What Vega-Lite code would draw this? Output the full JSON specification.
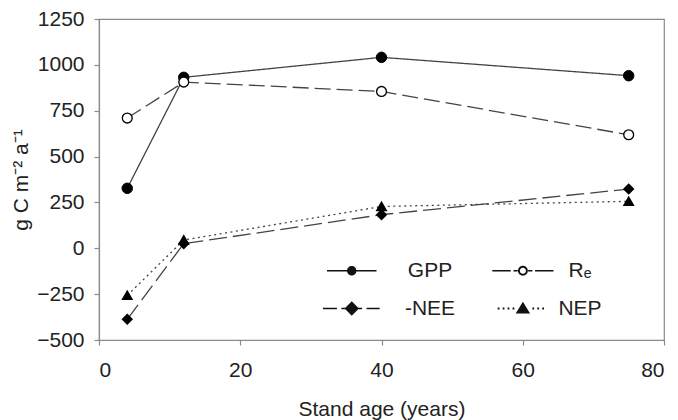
{
  "$schema": "https://vega.github.io/schema/vega-lite/v6.json",
  "width": 565,
  "height": 321,
  "autosize": "none",
  "padding": {"left": 99, "top": 19, "right": 14, "bottom": 80},
  "background": "white",
  "data": {
    "values": [
      {"series": "GPP", "age": 4, "value": 327},
      {"series": "GPP", "age": 12, "value": 932},
      {"series": "GPP", "age": 40, "value": 1041},
      {"series": "GPP", "age": 75, "value": 941},
      {"series": "Re", "age": 4, "value": 710},
      {"series": "Re", "age": 12, "value": 906},
      {"series": "Re", "age": 40, "value": 855},
      {"series": "Re", "age": 75, "value": 619},
      {"series": "-NEE", "age": 4, "value": -387},
      {"series": "-NEE", "age": 12, "value": 25},
      {"series": "-NEE", "age": 40, "value": 183},
      {"series": "-NEE", "age": 75, "value": 323},
      {"series": "NEP", "age": 4, "value": -257},
      {"series": "NEP", "age": 12, "value": 45},
      {"series": "NEP", "age": 40, "value": 228},
      {"series": "NEP", "age": 75, "value": 256}
    ]
  },
  "layer": [
    {
      "mark": {"type": "line", "color": "#444", "strokeWidth": 1.3},
      "encoding": {
        "x": {"field": "age", "type": "quantitative", "scale": {"domain": [0, 80], "nice": false},
              "axis": {"values": [0, 20, 40, 60, 80], "title": "Stand age (years)", "labelPadding": 14, "titlePadding": 18}},
        "y": {"field": "value", "type": "quantitative", "scale": {"domain": [-500, 1250], "nice": false},
              "axis": {"values": [-500, -250, 0, 250, 500, 750, 1000, 1250], "format": "d", "title": "g C m⁻² a⁻¹", "labelPadding": 10, "titlePadding": 5}},
        "strokeDash": {"field": "series", "type": "nominal",
                       "scale": {"domain": ["GPP", "Re", "-NEE", "NEP"], "range": [[1, 0], [16, 6], [18, 6], [2, 3.5]]},
                       "legend": null}
      }
    },
    {
      "mark": {"type": "point", "filled": true, "opacity": 1, "stroke": "black"},
      "encoding": {
        "x": {"field": "age", "type": "quantitative"},
        "y": {"field": "value", "type": "quantitative"},
        "shape": {"field": "series", "type": "nominal",
                  "scale": {"domain": ["GPP", "Re", "-NEE", "NEP"], "range": ["circle", "circle", "diamond", "triangle-up"]},
                  "legend": null},
        "fill": {"field": "series", "type": "nominal",
                 "scale": {"domain": ["GPP", "Re", "-NEE", "NEP"], "range": ["black", "white", "black", "black"]},
                 "legend": null},
        "size": {"field": "series", "type": "nominal",
                 "scale": {"domain": ["GPP", "Re", "-NEE", "NEP"], "range": [110, 72, 195, 155]},
                 "legend": null},
        "strokeWidth": {"field": "series", "type": "nominal",
                 "scale": {"domain": ["GPP", "Re", "-NEE", "NEP"], "range": [1, 2, 1, 1]},
                 "legend": null}
      }
    },
    {
      "transform": [{"filter": "false"}],
      "mark": {"type": "point", "filled": true, "opacity": 1, "size": 81},
      "encoding": {
        "shape": {"field": "series", "type": "nominal",
                  "scale": {"domain": ["GPP", "-NEE", "Re", "NEP"],
                            "range": [
                              "M-1,-0.14H10V0.14H-1ZM3.45,0A1.05,1.05,0,1,1,5.55,0A1.05,1.05,0,1,1,3.45,0Z",
                              "M-1.9,-0.14H1.2V0.14H-1.9ZM2.2,-0.14H3.2V0.14H2.2ZM5.8,-0.14H6.8V0.14H5.8ZM7.8,-0.14H10.7V0.14H7.8ZM4.5,-1.6L6.1,0L4.5,1.6L2.9,0Z",
                              "M2.4,-0.14H6.5V0.14H2.4ZM7.1,-0.14H8.05V0.14H7.1ZM10.35,-0.14H11.3V0.14H10.35ZM11.9,-0.14H16V0.14H11.9ZM8.1,0A1.1,1.1,0,1,1,10.3,0A1.1,1.1,0,1,1,8.1,0ZM8.52,0A0.68,0.68,0,1,0,9.88,0A0.68,0.68,0,1,0,8.52,0Z",
                              "M3.6,-0.2H4V0.2H3.6ZM4.7,-0.2H5.1V0.2H4.7ZM5.8,-0.2H6.2V0.2H5.8ZM6.9,-0.2H7.3V0.2H6.9ZM11.3,-0.2H11.7V0.2H11.3ZM12.4,-0.2H12.8V0.2H12.4ZM13.5,-0.2H13.9V0.2H13.5ZM9.2,-1.5L10.8,1.1L7.6,1.1Z"
                            ]},
                  "legend": {"title": null, "labelExpr": "datum.value === 'Re' ? 'Rₑ' : datum.label",
                             "encode": {"labels": {"update": {"fontStyle": {"signal": "datum.value === 'Re' ? 'italic' : 'normal'"}}}}}},
        "fill": {"field": "series", "type": "nominal",
                 "scale": {"domain": ["GPP", "-NEE", "Re", "NEP"], "range": ["#111", "#111", "#111", "#111"]},
                 "legend": {"title": null, "labelExpr": "datum.value === 'Re' ? 'Rₑ' : datum.label"}}
      }
    }
  ],
  "resolve": {"scale": {"shape": "independent", "fill": "independent", "size": "independent", "strokeWidth": "independent"}},
  "config": {
    "view": {"stroke": "#8a8a8a", "strokeWidth": 1.2},
    "font": "Liberation Sans",
    "axis": {
      "domainColor": "#8a8a8a", "domainWidth": 1.2, "tickColor": "#8a8a8a", "tickWidth": 1.2, "tickSize": 5, "grid": false,
      "labelFont": "Liberation Sans", "labelFontSize": 21, "labelColor": "#222",
      "titleFont": "Liberation Sans", "titleFontSize": 21, "titleFontWeight": "normal", "titleColor": "#222"
    },
    "legend": {
      "orient": "none", "legendX": 222, "legendY": 241, "columns": 2, "padding": 0,
      "symbolSize": 81, "symbolStrokeWidth": 0, "symbolOpacity": 1,
      "labelFont": "Liberation Sans", "labelFontSize": 21, "labelColor": "#222", "labelAlign": "center",
      "labelOffset": 88, "columnPadding": 15, "rowPadding": 16
    }
  }
}
